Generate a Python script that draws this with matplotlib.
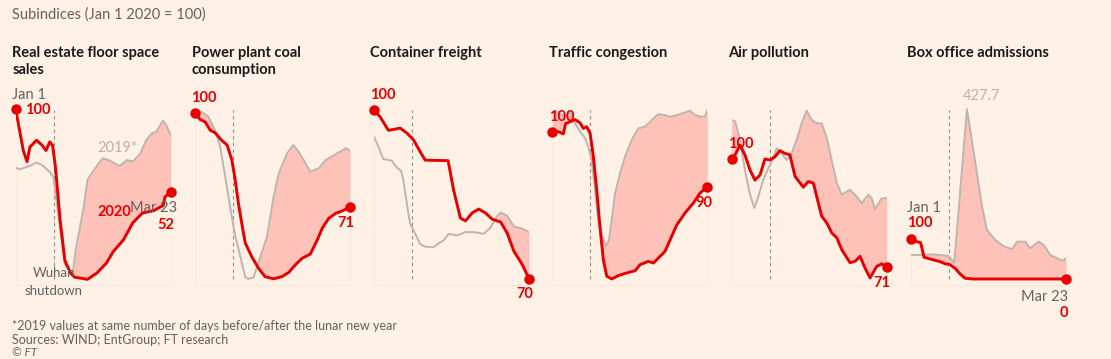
import numpy as np
import matplotlib.pyplot as plt

plt.rcParams['font.family'] = ['Lato', 'DejaVu Sans']

BG = '#fff1e5'
RED = '#e60000'
PINK = '#ffc2b9'
GRAY = '#bdb5ae'
TXT = '#66605c'

titles = ['Real estate floor space\nsales', 'Power plant coal\nconsumption', 'Container freight',
          'Traffic congestion', 'Air pollution', 'Box office admissions']

# days since Jan 1 2020 and index values (Jan 1 2020 = 100)
re_d20 = [0, 4, 6, 7.5, 11, 14, 16, 18, 19.5, 21, 23.5, 26, 29, 31, 38, 43, 48, 51.5, 57, 62, 67, 73, 78, 79, 82]
re_v20 = [100, 76, 69.5, 78, 82, 79, 76, 81, 79, 66.6, 35.5, 12, 4.7, 2.3, 1, 4.7, 10.5, 17, 24, 34, 39.6, 41, 44, 49, 52]
re_d19 = [0, 2, 7.5, 11, 14, 18, 20, 23.5, 26, 30, 32, 36, 38, 42, 46, 49, 52.5, 55, 59, 62, 66, 69, 72, 74.5, 76, 78, 80, 82]
re_v19 = [66, 65, 67, 69, 67.5, 63.5, 60.6, 30, 10, 3.5, 20, 43, 59, 65.6, 71.5, 70.5, 68.5, 67, 70.5, 69.5, 74.4, 82, 86, 87, 90, 93.4, 90, 85]

pp_d20 = [0, 2.7, 5.3, 8, 10.6, 14, 17, 19.5, 21, 23, 25, 26.6, 30, 33.6, 37, 41.6, 46, 49.6, 53, 56.7, 61, 64.7, 67.3, 70.8, 74.4, 78, 82]
pp_v20 = [100, 98.1, 97.4, 94.8, 94, 91.7, 90.2, 85.5, 80.4, 72, 65, 59.8, 55.6, 52, 49.4, 48.7, 49.4, 50.7, 53, 55.1, 56.4, 60.8, 64.4, 67.5, 69, 69.8, 71]
pp_d19 = [0, 3.5, 7, 10.6, 13.3, 16, 18.6, 21, 24, 26.6, 28.3, 31, 34.5, 38, 41.6, 44.3, 48.7, 52, 54.9, 57.5, 61, 65.5, 69, 73.5, 78, 80, 82]
pp_v19 = [100.8, 100.5, 99, 94.8, 89.7, 80.4, 71, 62.8, 55.6, 49.2, 48.7, 49.2, 55.4, 61.6, 74.2, 81.4, 87.6, 90.2, 88, 85.5, 81.9, 83, 85.5, 87, 88.6, 89.2, 88.4]

cf_d20 = [0, 3.2, 7.6, 11.2, 13.8, 17.4, 20.9, 24.4, 27.1, 39.2, 42.1, 45.7, 48.4, 51.9, 55.4, 59, 62.5, 67, 70.5, 74, 78.5, 82]
cf_v20 = [100, 98.8, 96.4, 96.6, 96.8, 95.9, 94.7, 92.6, 91.1, 91, 85.8, 80.8, 80.3, 81.7, 82.4, 81.7, 80.6, 80.1, 78.1, 74.9, 72.5, 70]
cf_d19 = [0, 2.3, 4.9, 9.4, 12, 14.3, 15.6, 17.4, 19.1, 21.8, 24.4, 27.1, 31.5, 34.2, 36.8, 39.5, 43.9, 48.4, 52.8, 58.1, 61.6, 65.2, 67, 70.5, 74, 78.5, 82]
cf_v19 = [95.3, 93.5, 91.3, 91, 89.8, 89.2, 87.4, 83.3, 79.8, 78, 76.2, 75.7, 75.6, 76.3, 76.8, 78, 77.7, 78.3, 78.3, 78, 79.1, 81.2, 81.8, 81.2, 79.3, 78.9, 78.3]

tc_d20 = [0, 3.2, 5.8, 7.1, 9.4, 12, 14.7, 16.4, 18.2, 20, 21.7, 23.5, 25.2, 27, 28.8, 31.4, 34.9, 39.4, 43.8, 46.4, 50.8, 53.5, 56.1, 59.6, 62.3, 65.8, 70.2, 74.6, 78.1, 82]
tc_v20 = [100, 100, 99.6, 101.5, 101.8, 102.2, 101.6, 100.6, 100.9, 99.7, 95.5, 89.4, 82.7, 76.7, 73.7, 73.2, 73.8, 74.3, 74.7, 75.8, 76.4, 76.1, 77, 78.2, 80.3, 83, 85.2, 87, 88.8, 90]
tc_d19 = [0, 3.2, 6.7, 9.4, 12, 14.7, 17.4, 19, 20.8, 22.6, 24.3, 26.5, 28.5, 30, 31.4, 33.2, 35.8, 38.5, 42, 45.5, 49, 52.6, 56.1, 59.6, 62.3, 65.8, 69.3, 72.9, 75.5, 79, 80.8, 82]
tc_v19 = [103.6, 103.6, 102.7, 103.6, 101.5, 100, 98.8, 97.3, 94.8, 89.4, 83.9, 80.9, 79.2, 80.3, 83.9, 88.8, 92.4, 95.5, 98.5, 100.6, 100.9, 102.1, 103.2, 103, 102.7, 103, 103.4, 103.8, 103, 102.7, 102.8, 103.9]

ap_d20 = [0, 1.8, 4.4, 7, 9.7, 12.3, 15, 17.6, 20.3, 22.9, 25.5, 28.2, 30.8, 33.5, 37.9, 40.5, 43.2, 45.8, 47.6, 50.3, 52.9, 55.6, 58.2, 62.6, 65.3, 67.9, 70.5, 73.2, 76.7, 79.4, 82]
ap_v20 = [100, 101.2, 103.8, 101.2, 97.1, 94.4, 95.8, 100.1, 99.8, 100.7, 102.3, 101.6, 101.2, 95.4, 92.5, 94, 93.6, 88.3, 84.7, 82.9, 80.2, 78.9, 75.7, 72.2, 72.6, 73.9, 70.8, 68.1, 71.2, 71.9, 71]
ap_d19 = [0, 1.8, 4.4, 7, 9.7, 12, 14.1, 16.7, 19.4, 21.2, 23.8, 26.5, 29.1, 31.7, 34.4, 37, 39.7, 42.3, 45, 47.6, 50.3, 52.9, 55.6, 58.2, 62.6, 66.1, 68.8, 72.3, 74.1, 75.8, 79.4, 82]
ap_v19 = [110.6, 110.2, 105.3, 97.1, 90.5, 86.9, 90, 94.5, 97.6, 99.4, 103, 101.6, 99.8, 101.6, 105.2, 109.7, 113.1, 110.6, 109.7, 109.7, 105.7, 99.8, 93.6, 90.5, 91.8, 90, 88.2, 90.5, 89.5, 86.6, 89.5, 89.5]

bo_d20 = [0, 3, 5.1, 6.9, 10.1, 15.4, 18, 20.7, 23.3, 26, 28.6, 33, 82]
bo_v20 = [100, 94, 91.6, 54.7, 50.4, 43.7, 38.5, 36, 27, 12.6, 1.8, 0, 0]
bo_d19 = [0, 4.8, 11.8, 19.8, 22.5, 22.9, 29.6, 32.3, 34.9, 37.6, 40.2, 44.6, 49, 53.4, 56.1, 60.5, 63.1, 67.5, 70.2, 73.7, 77.3, 80.4, 82]
bo_v19 = [60.5, 60.5, 62.2, 58, 43.6, 41, 427.7, 346, 266, 182, 123, 98, 83, 75, 94, 94, 77, 94, 86, 60.5, 52, 46, 52]

series = [(re_d20, re_v20, re_d19, re_v19), (pp_d20, pp_v20, pp_d19, pp_v19),
          (cf_d20, cf_v20, cf_d19, cf_v19), (tc_d20, tc_v20, tc_d19, tc_v19),
          (ap_d20, ap_v20, ap_d19, ap_v19), (bo_d20, bo_v20, bo_d19, bo_v19)]

shutdown_day = 20
lefts = [15.7, 195, 374, 552.3, 731.7, 911]
ylims = [(-2.3, 102.5), (46.8, 102.6), (68.9, 100.9), (72.1, 104.85), (66.2, 114.6), (-15.1, 438.3)]

W, H = 1111, 359
fig = plt.figure(figsize=(W / 100, H / 100), dpi=100, facecolor=BG)


def ftext(x, y, s, **kw):
    kw.setdefault('va', 'center')
    fig.text(x / W, 1 - y / H, s, **kw)


for i in range(6):
    d20, v20, d19, v19 = series[i]
    ax = fig.add_axes([lefts[i] / W, 1 - 285 / H, 155 / W, 180 / H])
    ax.set_facecolor('none')
    ax.set_xlim(0, 82)
    ax.set_ylim(*ylims[i])
    ax.axis('off')
    lo = ylims[i][0]
    ax.fill_between(d19, v19, lo, color=PINK, lw=0, zorder=1)
    ax.fill_between(d20, v20, lo, color=BG, lw=0, zorder=2)
    ax.axvline(shutdown_day, ymin=0.033, ymax=0.972, color='#8f8a86', lw=0.8, ls=(0, (3, 3)), zorder=3)
    ax.plot(d19, v19, color=GRAY, lw=1.4, zorder=4)
    ax.plot(d20, v20, color=RED, lw=2.1, zorder=5, solid_joinstyle='round')
    ax.plot([d20[0], d20[-1]], [v20[0], v20[-1]], 'o', color=RED, ms=6.5, zorder=6, clip_on=False)
    ftext(lefts[i] - 3.5, 46, titles[i], va='top', fontsize=10.5, fontweight='bold', color='#1a1a1a', linespacing=1.3)

# header / footer
ftext(12, 15, 'Subindices (Jan 1 2020 = 100)', fontsize=10.5, color=TXT)
ftext(12, 326, '*2019 values at same number of days before/after the lunar new year', fontsize=9, color=TXT)
ftext(12, 340, 'Sources: WIND; EntGroup; FT research', fontsize=9, color=TXT)
ftext(12, 352, '© FT', fontsize=8.5, color=TXT, style='italic')

lab = dict(fontsize=10.5, fontweight='bold', color=RED)
grey = dict(fontsize=10.5, color=TXT)

# panel 1
ftext(12, 95, 'Jan 1', **grey)
ftext(25, 110, '100', **lab)
ftext(97, 148, '2019*', fontsize=10.5, color='#bab2ab')
ftext(97, 212, '2020', **lab)
ftext(130, 208, 'Mar 23', **grey)
ftext(174, 225, '52', ha='right', **lab)
ftext(54, 273, 'Wuhan', ha='center', fontsize=9.5, color=TXT)
ftext(54, 291, 'shutdown', ha='center', fontsize=9.5, color=TXT)
# panel 2
ftext(191, 98, '100', **lab)
ftext(354, 223, '71', ha='right', **lab)
# panel 3
ftext(370, 95, '100', **lab)
ftext(533, 294, '70', ha='right', **lab)
# panel 4
ftext(549, 117, '100', **lab)
ftext(712, 203, '90', ha='right', **lab)
# panel 5
ftext(728, 144, '100', **lab)
ftext(890, 283, '71', ha='right', **lab)
# panel 6
ftext(963, 96, '427.7', fontsize=10.5, color='#bab2ab')
ftext(907, 208, 'Jan 1', **grey)
ftext(907, 223, '100', **lab)
ftext(1068, 297, 'Mar 23', ha='right', **grey)
ftext(1068, 313, '0', ha='right', **lab)

fig.savefig('out.png', dpi=100, facecolor=BG)
